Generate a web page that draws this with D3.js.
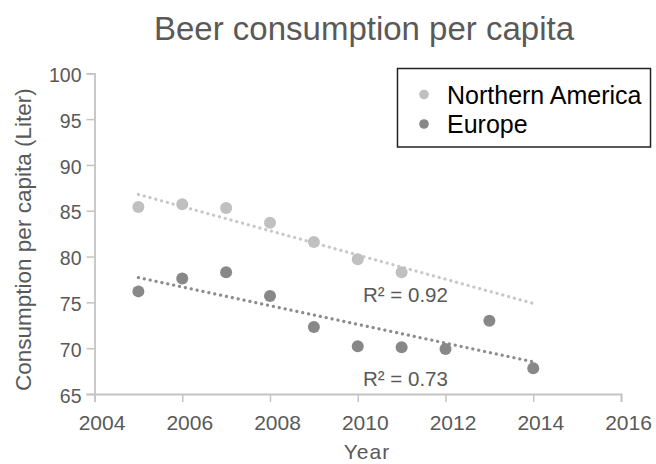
<!DOCTYPE html>
<html>
<head>
<meta charset="utf-8">
<script src="https://cdn.jsdelivr.net/npm/d3@7"></script>
<style>
  html, body { margin: 0; padding: 0; background: #fff; }
  svg { display: block; font-family: "Liberation Sans", Arial, sans-serif; }
</style>
</head>
<body>
<svg id="chart" width="656" height="464"></svg>
<script>
// ---- data ----
const naYears = [2005, 2006, 2007, 2008, 2009, 2010, 2011];
const naValues = [85.4, 85.7, 85.3, 83.7, 81.6, 79.7, 78.3];
const euYears = [2005, 2006, 2007, 2008, 2009, 2010, 2011, 2012, 2013, 2014];
const euValues = [76.2, 77.6, 78.3, 75.7, 72.3, 70.2, 70.1, 69.9, 73.0, 67.8];
const seriesNames = ["Northern America", "Europe"];
const r2Labels = ["R² = 0.92", "R² = 0.73"];
const xTicks = [2004, 2006, 2008, 2010, 2012, 2014, 2016];
const yTicks = [65, 70, 75, 80, 85, 90, 95, 100];
const trendRange = [2005, 2014];

const svg = d3.select("#chart");
const x = d3.scaleLinear().domain([2004, 2016]).range([94.5, 621]);
const y = d3.scaleLinear().domain([65, 100]).range([394, 73.3]);

const textColor = "#595959";
const axisColor = "#c4c4c4";
const colors = ["#c0c0c0", "#888888"];
const trendColors = ["#c8c8c8", "#8c8c8c"];

// title
svg.append("text").attr("x", 364).attr("y", 40).attr("text-anchor", "middle")
  .attr("font-size", 33).attr("fill", textColor).text("Beer consumption per capita");

// axes
const xAxis = svg.append("g").attr("transform", `translate(0,${y(65)})`)
  .call(d3.axisBottom(x).tickValues(xTicks).tickFormat(d3.format("d")).tickSizeOuter(0).tickSize(8));
xAxis.select(".domain").attr("stroke", axisColor).attr("stroke-width", 1.8);
xAxis.selectAll(".tick line").attr("stroke", axisColor).attr("stroke-width", 1.5);
xAxis.selectAll(".tick text").attr("fill", textColor).attr("font-size", 21)
  .attr("font-family", "Liberation Sans, Arial, sans-serif").attr("dx", 7).attr("dy", 0).attr("y", 36);

const yAxis = svg.append("g").attr("transform", `translate(${x(2004)},0)`)
  .call(d3.axisLeft(y).tickValues(yTicks).tickSizeOuter(0).tickSize(8));
yAxis.select(".domain").attr("stroke", axisColor).attr("stroke-width", 1.8);
yAxis.selectAll(".tick line").attr("stroke", axisColor).attr("stroke-width", 1.5);
yAxis.selectAll(".tick text").attr("fill", textColor).attr("font-size", 19.5)
  .attr("font-family", "Liberation Sans, Arial, sans-serif").attr("x", -13).attr("dy", "0.42em");

// axis titles
svg.append("text").attr("x", 367).attr("y", 459).attr("text-anchor", "middle")
  .attr("font-size", 21).attr("letter-spacing", 1).attr("fill", textColor).text("Year");
svg.append("text").attr("transform", `translate(31,${(y(65) + y(100)) / 2 + 6}) rotate(-90)`)
  .attr("text-anchor", "middle").attr("font-size", 22.5).attr("fill", textColor)
  .text("Consumption per capita (Liter)");

// regression helper
function fit(xs, ys) {
  const mx = d3.mean(xs), my = d3.mean(ys);
  let sxy = 0, sxx = 0;
  xs.forEach((v, i) => { sxy += (v - mx) * (ys[i] - my); sxx += (v - mx) * (v - mx); });
  const b = sxy / sxx, a = my - b * mx;
  return t => a + b * t;
}

const series = [
  { xs: naYears, ys: naValues },
  { xs: euYears, ys: euValues }
];

// trend lines
series.forEach((s, i) => {
  const f = fit(s.xs, s.ys);
  svg.append("line")
    .attr("x1", x(trendRange[0])).attr("y1", y(f(trendRange[0])))
    .attr("x2", x(trendRange[1])).attr("y2", y(f(trendRange[1])))
    .attr("stroke", trendColors[i]).attr("stroke-width", 3.2)
    .attr("stroke-linecap", "round").attr("stroke-dasharray", "0.1 5.9");
});

// points
series.forEach((s, i) => {
  svg.append("g").selectAll("circle").data(s.xs.map((v, j) => [v, s.ys[j]])).join("circle")
    .attr("cx", d => x(d[0])).attr("cy", d => y(d[1])).attr("r", 6)
    .attr("fill", colors[i]);
});

// R² labels
svg.append("text").attr("x", 363).attr("y", 301.5).attr("font-size", 20.5)
  .attr("fill", textColor).text(r2Labels[0]);
svg.append("text").attr("x", 363).attr("y", 386).attr("font-size", 20.5)
  .attr("fill", textColor).text(r2Labels[1]);

// legend
const lg = svg.append("g");
lg.append("rect").attr("x", 397.5).attr("y", 68.5).attr("width", 253).attr("height", 78.5)
  .attr("fill", "#fff").attr("stroke", "#222").attr("stroke-width", 1.5);
seriesNames.forEach((name, i) => {
  const cy = 94.5 + i * 29.5;
  lg.append("circle").attr("cx", 424).attr("cy", cy).attr("r", 4.8).attr("fill", colors[i]);
  lg.append("text").attr("x", 447).attr("y", cy + 9).attr("font-size", 25)
    .attr("fill", "#000").text(name);
});
</script>
</body>
</html>
